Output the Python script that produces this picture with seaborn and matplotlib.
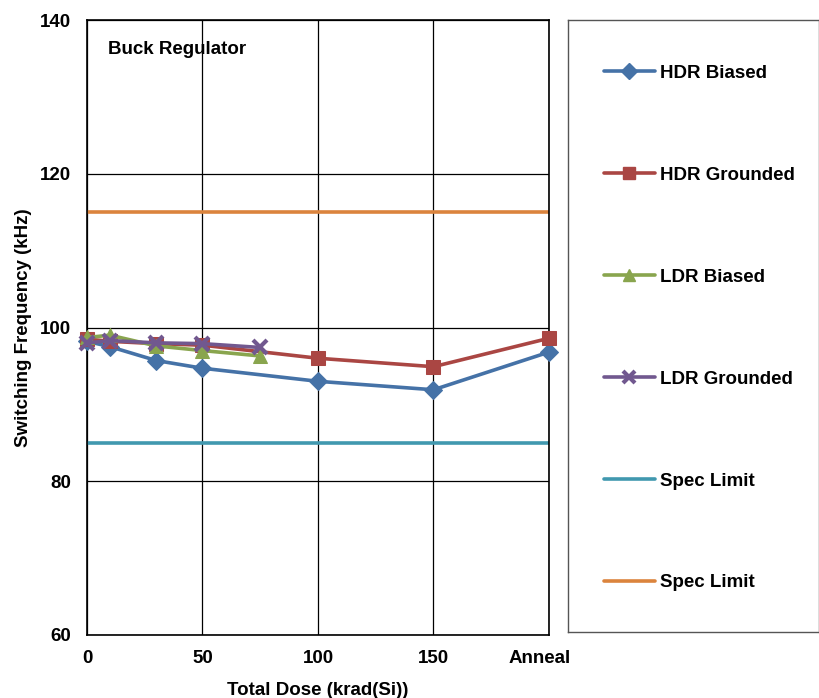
import matplotlib
matplotlib.use("Agg")
import matplotlib.pyplot as plt
import matplotlib.transforms as mtransforms
import seaborn as sns
import pandas as pd
from matplotlib.lines import Line2D

# Dose steps (krad(Si)); the anneal point is placed at 200
hdr_dose = [0, 10, 30, 50, 100, 150, 200]
hdr_biased = [98.2, 97.5, 95.7, 94.7, 93.0, 91.9, 96.8]
hdr_grounded = [98.5, 98.2, 97.9, 97.7, 96.0, 94.9, 98.6]

ldr_dose = [0, 10, 30, 50, 75]
ldr_biased = [98.7, 99.0, 97.6, 97.0, 96.3]
ldr_grounded = [98.0, 98.3, 98.0, 97.9, 97.4]

spec_x = [0, 200]
spec_low = [85, 85]
spec_high = [115, 115]

x_ticks = [0, 50, 100, 150, 200]
x_ticklabels = ["0", "50", "100", "150", "Anneal"]
y_ticks = [60, 80, 100, 120, 140]

series = [
    ("HDR Biased", hdr_dose, hdr_biased, "#4572A7", "D", 9),
    ("HDR Grounded", hdr_dose, hdr_grounded, "#AA4643", "s", 10),
    ("LDR Biased", ldr_dose, ldr_biased, "#89A54E", "^", 10),
    ("LDR Grounded", ldr_dose, ldr_grounded, "#71588F", "x", 10),
]

FS = 13.5

sns.set_theme(style="white")
plt.rcParams["font.family"] = ["Liberation Sans", "DejaVu Sans"]
plt.rcParams["font.weight"] = "bold"
for key in ("text.color", "axes.labelcolor", "xtick.color", "ytick.color"):
    plt.rcParams[key] = "black"

fig = plt.figure(figsize=(8.2, 6.98), dpi=100)
ax = fig.add_axes([0.1061, 0.0903, 0.5634, 0.8810])

# spec limits first so data lines sit on top
sns.lineplot(x=spec_x, y=spec_low, ax=ax, color="#4198AF", linewidth=2.6)
sns.lineplot(x=spec_x, y=spec_high, ax=ax, color="#DB843D", linewidth=2.6)

handles = []
for name, xs, ys, col, mk, ms in series:
    df = pd.DataFrame({"dose": xs, "freq": ys})
    kw = dict(marker=mk, markersize=ms, markerfacecolor=col, markeredgecolor=col)
    if mk == "x":
        kw["markeredgewidth"] = 3
    sns.lineplot(data=df, x="dose", y="freq", ax=ax, color=col, linewidth=2.6,
                 clip_on=False, zorder=3, **kw)
    h_kw = dict(kw)
    h_kw["markersize"] = ms * 0.85
    handles.append(Line2D([], [], color=col, linewidth=2.6, label=name, **h_kw))

handles.append(Line2D([], [], color="#4198AF", linewidth=2.6, label="Spec Limit"))
handles.append(Line2D([], [], color="#DB843D", linewidth=2.6, label="Spec Limit"))

ax.set_xlim(0, 200)
ax.set_ylim(60, 140)
ax.set_xticks(x_ticks)
ax.set_xticklabels(x_ticklabels)
ax.set_yticks(y_ticks)
ax.tick_params(axis="both", length=0, labelsize=FS)
ax.tick_params(axis="y", pad=11.5)
ax.tick_params(axis="x", pad=11)
for lbl in ax.get_xticklabels() + ax.get_yticklabels():
    lbl.set_fontweight("bold")
# the last category label sits a little left of its gridline
last = ax.get_xticklabels()[-1]
last.set_transform(last.get_transform() +
                   mtransforms.ScaledTranslation(-9 / 100, 0, fig.dpi_scale_trans))
ax.grid(True, color="black", linewidth=0.9)
ax.set_axisbelow(True)
for s in ax.spines.values():
    s.set_visible(True)
    s.set_color("black")
    s.set_linewidth(1.2)
ax.set_xlabel("Total Dose (krad(Si))", fontsize=FS, fontweight="bold", labelpad=10.5)
ax.set_ylabel("Switching Frequency (kHz)", fontsize=FS, fontweight="bold", labelpad=6)
ax.text(0.045, 0.966, "Buck Regulator", transform=ax.transAxes, fontsize=FS,
        fontweight="bold", va="top", ha="left")

# legend panel
lax = fig.add_axes([0.6927, 0.0946, 0.3061, 0.8767])
lax.set_xticks([])
lax.set_yticks([])
for s in lax.spines.values():
    s.set_color("#555555")
    s.set_linewidth(1.0)
leg = lax.legend(handles=handles, loc="center left", bbox_to_anchor=(0.075, 0.4965),
                 frameon=False, labelspacing=4.52,
                 handlelength=2.75, handletextpad=0.27,
                 prop={"weight": "bold", "size": FS})

fig.savefig("out.png", dpi=100)
